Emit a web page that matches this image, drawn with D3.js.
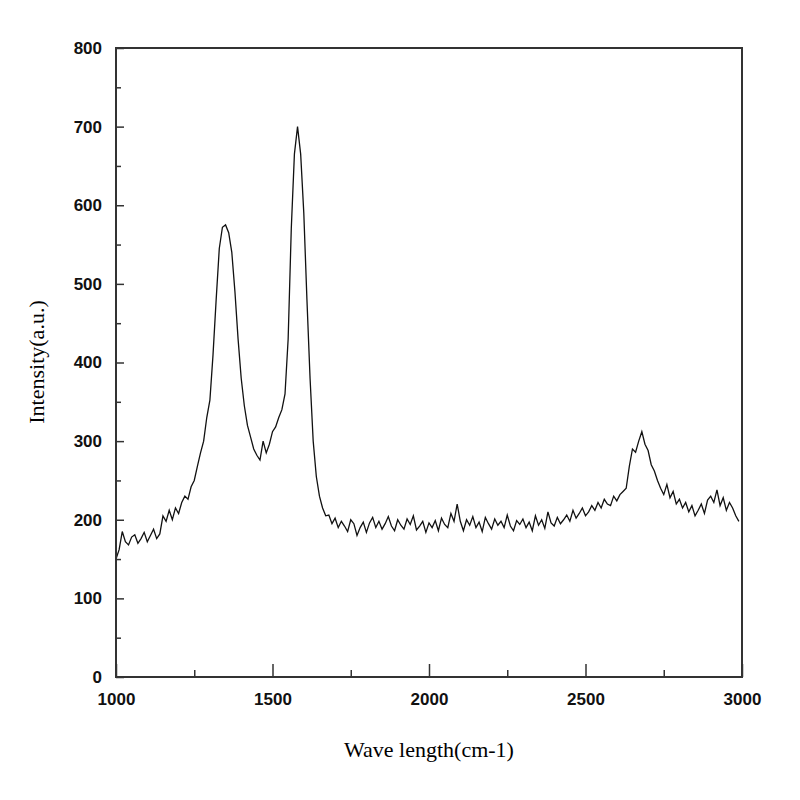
<!DOCTYPE html>
<html>
<head>
<meta charset="utf-8">
<script src="https://cdn.jsdelivr.net/npm/d3@7"></script>
<style>body{margin:0;background:#fff}</style>
</head>
<body>
<script>
// wavenumber sampled every 10 cm-1 from 1000
var waveStart = 1000, waveStep = 10;
var intensity = [
 150,162,185,172,168,178,181,170,176,184, // 1000-1090
 172,180,188,176,182,205,198,212,200,215, // 1100-1190
 208,222,230,226,242,250,268,285,300,330, // 1200-1290
 352,410,480,545,572,575,565,540,490,430, // 1300-1390
 380,345,320,305,290,282,276,300,285,296, // 1400-1490
 312,318,330,340,360,430,570,665,700,665, // 1500-1590
 590,480,380,300,255,230,215,205,206,195, // 1600-1690
 202,190,198,192,185,200,195,180,190,197, // 1700-1790
 184,196,203,190,198,188,195,204,192,186, // 1800-1890
 200,193,188,201,194,205,187,192,198,184, // 1900-1990
 196,190,199,186,202,194,190,208,198,220, // 2000-2090
 198,186,200,193,204,190,197,185,203,195, // 2100-2190
 188,201,193,198,190,206,192,186,199,194, // 2200-2290
 201,190,197,186,205,193,200,189,210,196, // 2300-2390
 192,203,195,200,206,198,212,202,208,215, // 2400-2490
 205,210,218,212,222,215,226,220,218,230, // 2500-2590
 224,232,236,240,268,290,286,300,312,296, // 2600-2690
 288,270,262,250,240,232,245,228,236,220, // 2700-2790
 226,215,222,210,218,205,212,220,208,225, // 2800-2890
 230,222,238,218,228,212,222,215,205,198  // 2900-2990
];
var xTicks = [1000, 1500, 2000, 2500, 3000];
var yTicks = [0, 100, 200, 300, 400, 500, 600, 700, 800];

var data = intensity.map(function(v, i) { return [waveStart + i * waveStep, v]; });

var svg = d3.select("body").append("svg").attr("width", 800).attr("height", 800);
var x = d3.scaleLinear().domain([1000, 3000]).range([116, 742]);
var y = d3.scaleLinear().domain([0, 800]).range([677, 48]);

// line
svg.append("path")
    .datum(data)
    .attr("fill", "none")
    .attr("stroke", "#111")
    .attr("stroke-width", 1.3)
    .attr("d", d3.line().x(function(d){ return x(d[0]); }).y(function(d){ return y(d[1]); }));

// frame
svg.append("rect").attr("x", 116).attr("y", 48).attr("width", 626).attr("height", 629)
    .attr("fill", "none").attr("stroke", "#333").attr("stroke-width", 2);

var fnt = "Liberation Sans, Arial, sans-serif";

// x axis ticks (inside)
var gx = svg.append("g").attr("transform", "translate(0,677)")
    .call(d3.axisBottom(x).tickValues(d3.range(1000, 3001, 250)).tickSize(-7)
        .tickFormat(function(d){ return xTicks.indexOf(d) >= 0 ? d : ""; }).tickPadding(16));
gx.select(".domain").remove();
gx.selectAll(".tick line").attr("stroke", "#333").attr("stroke-width", 1.5)
    .attr("y2", function(d){ return xTicks.indexOf(d) >= 0 ? -13 : -7; });
gx.selectAll("text").attr("font-family", fnt).attr("font-weight", "bold").attr("font-size", 17).attr("fill", "#111");

// y axis ticks (inside)
var gy = svg.append("g").attr("transform", "translate(116,0)")
    .call(d3.axisLeft(y).tickValues(d3.range(0, 801, 50)).tickSize(-7)
        .tickFormat(function(d){ return yTicks.indexOf(d) >= 0 ? d : ""; }).tickPadding(14));
gy.select(".domain").remove();
gy.selectAll(".tick line").attr("stroke", "#333").attr("stroke-width", 1.5)
    .attr("x2", function(d){ return yTicks.indexOf(d) >= 0 ? 8 : 5; });
gy.selectAll("text").attr("font-family", fnt).attr("font-weight", "bold").attr("font-size", 17).attr("fill", "#111");

// axis labels
svg.append("text").attr("x", 429).attr("y", 757).attr("text-anchor", "middle")
    .attr("font-family", "Liberation Serif, Times New Roman, serif").attr("font-size", 22)
    .text("Wave length(cm-1)");
svg.append("text").attr("transform", "translate(44,362) rotate(-90)").attr("text-anchor", "middle")
    .attr("font-family", "Liberation Serif, Times New Roman, serif").attr("font-size", 22)
    .text("Intensity(a.u.)");
</script>
</body>
</html>
